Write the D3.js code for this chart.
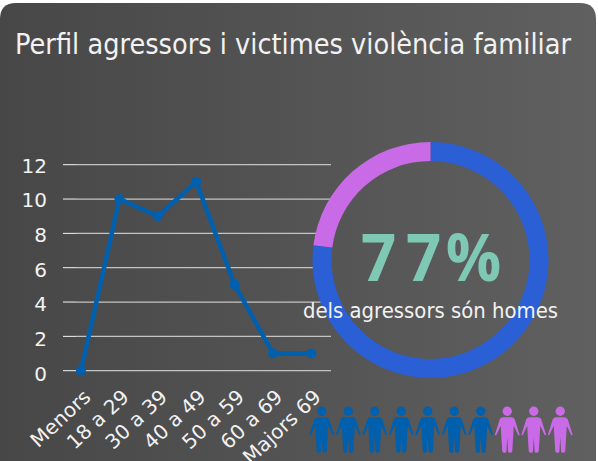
<!DOCTYPE html>
<html><head><meta charset="utf-8">
<script src="https://cdn.jsdelivr.net/npm/d3@7"></script>
<style>html,body{margin:0;padding:0;background:#fff}svg{display:block}text{font-family:"DejaVu Sans",sans-serif}</style>
</head><body><svg id="c" width="598" height="461"></svg>
<script>
const titleText = "Perfil agressors i victimes violència familiar";
const categories = ["Menors","18 a 29","30 a 39","40 a 49","50 a 59","60 a 69","Majors 69"];
const values = [0,10,9,11,5,1,1];
const yTicks = [0,2,4,6,8,10,12];
const shareValues = [77,23];
const bigLabel = "77%";
const subLabel = "dels agressors són homes";
const peopleGroups = ["home","home","home","home","home","home","home","dona","dona","dona"];
const colors = {line:"#0060ae", home:"#2a5fd6", dona:"#c96be6", big:"#7fc8b4", text:"#f2f2f2"};

const svg = d3.select("#c");
const defs = svg.append("defs");
const g = defs.append("linearGradient").attr("id","bg");
g.append("stop").attr("offset","0").attr("stop-color","#474747");
g.append("stop").attr("offset","1").attr("stop-color","#606060");
svg.append("path").attr("fill","url(#bg)")
  .attr("d","M0,461V19Q0,3 16,3H580Q596,3 596,19V461Z");

svg.append("text").attr("transform","translate(15,54) scale(1,1.1)").attr("fill",colors.text)
  .attr("font-size",25).attr("textLength",556).attr("lengthAdjust","spacingAndGlyphs").text(titleText);

const x = d3.scalePoint().domain(categories).range([81,311.5]);
const y = d3.scaleLinear().domain([0,12]).range([370.7,164.7]);
const yLabel = d3.scaleLinear().domain([0,12]).range([380.5,172.5]);

const grid = svg.append("g");
yTicks.forEach(t=>{
  grid.append("line").attr("x1",76).attr("x2",331).attr("y1",y(t)).attr("y2",y(t))
    .attr("stroke","#c4c4c4").attr("stroke-width",1.3);
  grid.append("line").attr("x1",63).attr("x2",76).attr("y1",y(t)).attr("y2",y(t))
    .attr("stroke","#f4f4f4").attr("stroke-width",1);
  grid.append("text").attr("x",47).attr("y",yLabel(t)).attr("text-anchor","end")
    .attr("font-size",20).attr("fill",colors.text).text(t);
});

categories.forEach(c=>{
  svg.append("text").attr("text-anchor","end").attr("font-size",20).attr("fill",colors.text)
    .attr("transform",`translate(${x(c)+1},${388}) rotate(-43)`).attr("dy","0.72em").text(c);
});

const line = d3.line().x((d,i)=>x(categories[i])).y(d=>y(d));
svg.append("path").attr("d",line(values)).attr("fill","none").attr("stroke",colors.line).attr("stroke-width",4.5);
svg.selectAll("circle.pt").data(values).join("circle").attr("class","pt")
  .attr("cx",(d,i)=>x(categories[i])).attr("cy",d=>y(d)).attr("r",5).attr("fill",colors.line);

const pie = d3.pie().sort(null)(shareValues);
const arc = d3.arc().innerRadius(99).outerRadius(118);
const donut = svg.append("g").attr("transform","translate(430.5,260)");
donut.selectAll("path").data(pie).join("path").attr("d",arc).attr("fill",(d,i)=>i==0?colors.home:colors.dona);

svg.append("text").attr("transform","translate(361,281) scale(.92,1)").attr("x","0 49 92").attr("y",0).attr("font-size",67)
  .style("font-family","'Open Sans'").attr("font-weight",700)
  .attr("fill",colors.big).text(bigLabel);
svg.append("text").attr("x",303).attr("y",318).attr("font-size",20.5)
  .attr("fill",colors.text).attr("textLength",255).attr("lengthAdjust","spacingAndGlyphs").text(subLabel);

const px = d3.scaleBand().domain(d3.range(peopleGroups.length)).range([308.5,573.5]);
const person = "M-4.7,0a4.7,4.7 0 1,0 9.4,0a4.7,4.7 0 1,0 -9.4,0Z M-4,6H4Q6.5,6 7.5,8L12.2,23Q12.5,24.5 11,24L6.5,14.5L6,24L5,40Q4.5,41.5 2.5,41.5Q1,41.5 .8,40L0,26L-.8,40Q-1,41.5 -2.5,41.5Q-4.5,41.5 -5,40L-6,24L-6.5,14.5L-11,24Q-12.5,24.5 -12.2,23L-7.5,8Q-6.5,6 -4,6Z";
svg.selectAll("path.p").data(peopleGroups).join("path").attr("class","p")
  .attr("transform",(d,i)=>`translate(${px(i)+px.bandwidth()/2},411.2)`)
  .attr("d",person).attr("fill",d=>d=="home"?colors.line:colors.dona);
</script></body></html>
